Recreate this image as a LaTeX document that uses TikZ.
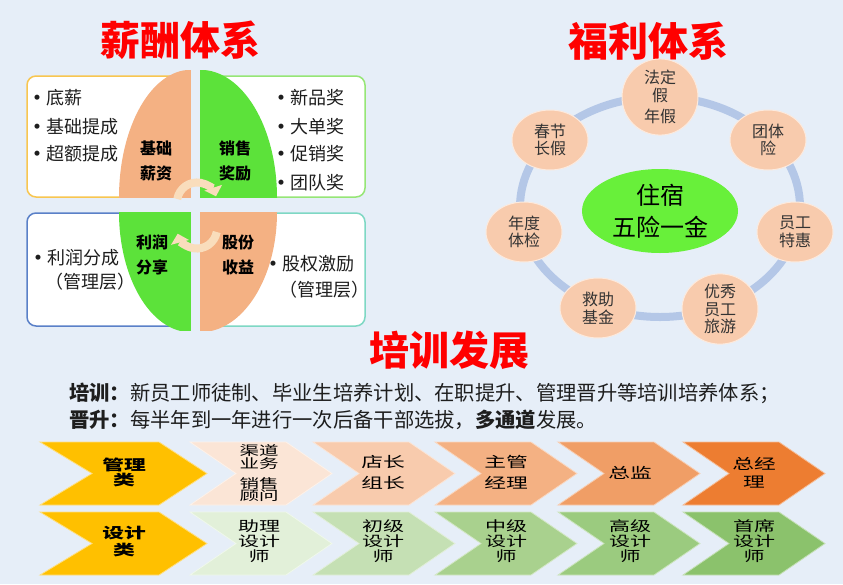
\documentclass[tikz,border=0pt]{standalone}
\usepackage{fontspec}
\setmainfont{Noto Sans CJK SC}
\usetikzlibrary{arrows.meta,shapes.geometric}
\definecolor{bg}{HTML}{E6EEF8}
\definecolor{ttl}{HTML}{FF0000}
\definecolor{qor}{HTML}{F4B183}
\definecolor{qgr}{HTML}{5CE23A}
\definecolor{bxY}{HTML}{F8C650}
\definecolor{bxG}{HTML}{96E676}
\definecolor{bxB}{HTML}{5A80C8}
\definecolor{bxT}{HTML}{7ED8C4}
\definecolor{arrc}{HTML}{F9DDBC}
\definecolor{ringc}{HTML}{B4C7E7}
\definecolor{peach}{HTML}{F8CBAD}
\definecolor{cgreen}{HTML}{68F03A}
\definecolor{txt}{HTML}{1E1E1E}
\definecolor{wtxt}{HTML}{333333}
\definecolor{gold}{HTML}{FFC000}
\definecolor{oA}{HTML}{FBE5D6}
\definecolor{oB}{HTML}{F8CBAD}
\definecolor{oC}{HTML}{F4B183}
\definecolor{oD}{HTML}{F09E66}
\definecolor{oE}{HTML}{ED7D31}
\definecolor{gA}{HTML}{E2F0D9}
\definecolor{gB}{HTML}{C5E0B4}
\definecolor{gC}{HTML}{A9D18E}
\definecolor{gD}{HTML}{9BCB7F}
\definecolor{gE}{HTML}{8BC26C}
\newcommand\fs[2]{\fontsize{#1}{#2}\selectfont}
\newcommand\sx[1]{\scalebox{1.5}[1]{#1}}
\newcommand\bul{{\bfseries •}}
\newcommand\chev[3]{% x0, ytop, colour
  \fill[#3, draw=white!50!#3, line width=0.8pt] (#1,#2) -- ++(96,0) -- ++(46,31.5) -- ++(-46,31.5) -- ++(-96,0) -- ++(46,-31.5) -- cycle;}
\tikzset{
  title/.style={font=\fs{40}{44}\bfseries, text=ttl, inner sep=0pt},
  sbox/.style={fill=white, line width=1.5pt, rounded corners=9pt},
  qlab/.style={font=\fs{16}{25}\bfseries, align=center, text=black, inner sep=0pt},
  litem/.style={font=\fs{18}{24}, anchor=west, text=txt, inner sep=0pt},
  cyc/.style={draw=arrc, line width=8pt, -{Triangle[length=9pt,width=18pt]}},
  ringst/.style={draw=ringc, line width=8pt},
  wnode/.style={ellipse, fill=peach, draw=white!60!peach, line width=1pt, minimum width=76pt, minimum height=60pt, inner sep=0pt, font=\fs{16}{17.5}, align=center, text=wtxt},
  cnode/.style={ellipse, fill=cgreen, minimum width=156pt, minimum height=84pt, inner sep=0pt, font=\fs{24}{32}, align=center, text=black},
  ptxt/.style={font=\fs{20.3}{24}, anchor=west, text=txt, inner sep=0pt},
  ctext/.style={font=\fs{14}{15}, align=center, text=black, inner sep=0pt}
}
\begin{document}
\begin{tikzpicture}[x=1pt,y=-1pt]
\fill[bg] (0,0) rectangle (843,584);
\useasboundingbox (0,0) rectangle (843,584);

% ---------- titles
\node[title] (t1) at (180,40) {薪酬体系};
\node[title] (t2) at (648,41) {福利体系};
\node[title] (t3) at (449,350) {培训发展};

% ---------- salary boxes
\draw[sbox, draw=bxY] (27,76) rectangle (190,197);
\draw[sbox, draw=bxG] (201,76) rectangle (365,197);
\draw[sbox, draw=bxB] (27,213) rectangle (190,326);
\draw[sbox, draw=bxT] (201,213) rectangle (365,326);
\begin{scope}
  \clip (110,70) rectangle (190.8,197.8);
  \fill[qor] (190.8,197.8) ellipse [x radius=71.8pt, y radius=128pt];
\end{scope}
\begin{scope}
  \clip (200.2,70) rectangle (290,197.8);
  \fill[qgr] (200.2,197.8) ellipse [x radius=76.8pt, y radius=128pt];
\end{scope}
\begin{scope}
  \clip (110,212.2) rectangle (190.8,330);
  \fill[qgr] (190.8,212.2) ellipse [x radius=71.8pt, y radius=120pt];
\end{scope}
\begin{scope}
  \clip (200.2,212.2) rectangle (290,330);
  \fill[qor] (200.2,212.2) ellipse [x radius=76.8pt, y radius=120pt];
\end{scope}

% cycle arrows
\coordinate (ca) at (177.3,199);
\coordinate (cb) at (216.7,232);
\draw[cyc] (ca) arc[start angle=170, end angle=18, radius=20pt];
\draw[cyc] (cb) arc[start angle=-10, end angle=-165, radius=20pt];

\node[qlab] (q1) at (156,160.5) {基础\\薪资};
\node[qlab] (q2) at (235,160.5) {销售\\奖励};
\node[qlab] (q3) at (152,254.5) {利润\\分享};
\node[qlab] (q4) at (238,254.5) {股份\\收益};

\node[litem] (a1) at (28,98) {\bul 底薪};
\node[litem] (a2) at (28,127) {\bul 基础提成};
\node[litem] (a3) at (28,154) {\bul 超额提成};
\node[litem] (b1) at (272,98) {\bul 新品奖};
\node[litem] (b2) at (272,127) {\bul 大单奖};
\node[litem] (b3) at (272,154) {\bul 促销奖};
\node[litem] (b4) at (272,183) {\bul 团队奖};
\node[litem] (c1) at (29,258) {\bul 利润分成};
\node[litem] (c2) at (45,282) {（管理层）};
\node[litem] (d1) at (264,264) {\bul 股权激励};
\node[litem] (d2) at (279,290) {（管理层）};

% ---------- welfare
\draw[ringst] (660,207) ellipse [x radius=140pt, y radius=110pt];
\node[cnode] (c) at (660,211) {住宿\\五险一金};
\node[wnode] (w1) at (660,97) {法定\\假\\[4pt]年假};
\node[wnode] (w2) at (768,140) {团体\\险};
\node[wnode] (w3) at (795,232) {员工\\特惠};
\node[wnode] (w4) at (720,309) {优秀\\员工\\旅游};
\node[wnode] (w5) at (598,308) {救助\\基金};
\node[wnode] (w6) at (524,232) {年度\\体检};
\node[wnode] (w7) at (550,140) {春节\\长假};

% ---------- training text
\node[ptxt] (p1) at (69,393) {\textbf{培训：}新员工师徒制、毕业生培养计划、在职提升、管理晋升等培训培养体系；};
\node[ptxt] (p2) at (69,420) {\textbf{晋升：}每半年到一年进行一次后备干部选拔，\textbf{多通道}发展。};

% ---------- chevrons row 1
\fill[gold, draw=white!50!gold, line width=0.8pt] (40,442) -- ++(119,0) -- ++(48,31.5) -- ++(-48,31.5) -- ++(-119,0) -- ++(52,-31.5) -- cycle;
\chev{190}{442}{oA}
\chev{313}{442}{oB}
\chev{435}{442}{oC}
\chev{558}{442}{oD}
\chev{683}{442}{oE}
% row 2
\fill[gold, draw=white!50!gold, line width=0.8pt] (40,512) -- ++(119,0) -- ++(48,31.5) -- ++(-48,31.5) -- ++(-119,0) -- ++(52,-31.5) -- cycle;
\chev{190}{512}{gA}
\chev{313}{512}{gB}
\chev{435}{512}{gC}
\chev{558}{512}{gD}
\chev{683}{512}{gE}

\node[ctext, font=\fs{14.5}{15}\bfseries] (m1) at (124,472.5) {\sx{管理}\\\sx{类}};
\node[ctext, font=\fs{13}{12.5}] (m2) at (259,473.5) {\sx{渠道}\\\sx{业务}\\[7.5pt]\sx{销售}\\\sx{顾问}};
\node[ctext, font=\fs{14.5}{21}] (m3) at (383,472.5) {\sx{店长}\\\sx{组长}};
\node[ctext, font=\fs{14.5}{21}] (m4) at (506,472.5) {\sx{主管}\\\sx{经理}};
\node[ctext, font=\fs{14.5}{21}] (m5) at (630,473) {\sx{总监}};
\node[ctext, font=\fs{14.5}{18}] (m6) at (754,472.5) {\sx{总经}\\\sx{理}};

\node[ctext, font=\fs{14.5}{17}\bfseries] (s1) at (124,541.5) {\sx{设计}\\\sx{类}};
\node[ctext] (s2) at (259,541.5) {\sx{助理}\\\sx{设计}\\\sx{师}};
\node[ctext] (s3) at (383,541.5) {\sx{初级}\\\sx{设计}\\\sx{师}};
\node[ctext] (s4) at (506,541.5) {\sx{中级}\\\sx{设计}\\\sx{师}};
\node[ctext] (s5) at (630,541.5) {\sx{高级}\\\sx{设计}\\\sx{师}};
\node[ctext] (s6) at (754,541.5) {\sx{首席}\\\sx{设计}\\\sx{师}};
\end{tikzpicture}
\end{document}
